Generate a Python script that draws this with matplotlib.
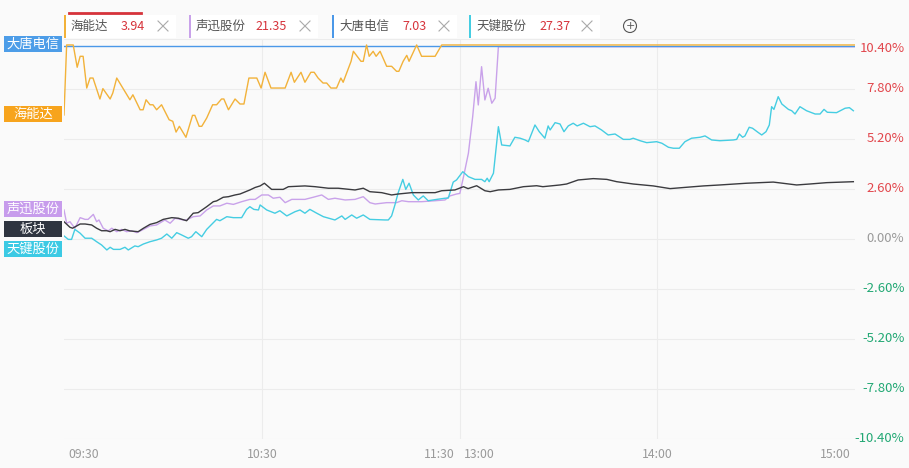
import matplotlib.pyplot as plt
import matplotlib.transforms as mtransforms
from matplotlib.patches import Rectangle, Circle
from matplotlib.lines import Line2D

plt.rcParams['font.family'] = ['Noto Sans CJK SC', 'DejaVu Sans']

# x = trading minutes since 09:30 (lunch break removed), y = change in %
tick_pos = [0, 60, 120, 120, 180, 240]
tick_text = ['09:30', '10:30', '11:30', '13:00', '14:00', '15:00']
tick_ha = ['left', 'center', 'right', 'left', 'center', 'center']
pct_ticks = [10.4, 7.8, 5.2, 2.6, 0.0, -2.6, -5.2, -7.8, -10.4]

names = ['海能达', '声迅股份', '大唐电信', '天键股份']
prices = ['3.94', '21.35', '7.03', '27.37']

# 海能达
hnd_t = [0, 0.8, 2.8, 4.0, 4.9, 5.8, 6.9, 7.9, 8.8, 10.9, 11.8, 14.0, 14.8, 16.0,
         20.0, 20.9, 23.1, 24.0, 24.9, 26.1, 27.0, 28.1, 29.6, 31.9, 33.0, 34.0,
         35.0, 37.0, 39.0, 39.7, 41.0, 41.8, 43.3, 45.1, 46.3, 47.8, 48.5, 49.9,
         51.9, 53.4, 54.6, 56.1, 58.5, 59.8, 61.0, 62.8, 67.1, 68.9, 69.9, 71.9,
         73.1, 74.9, 75.9, 77.1, 78.6, 79.7, 81.0, 82.7, 84.0, 84.7, 87.1, 87.8,
         90.1, 90.8, 91.8, 92.6, 93.8, 94.7, 95.9, 97.9, 99.4, 100.9, 101.6, 102.9,
         104.0, 104.7, 107.0, 108.5, 112.6, 114.6, 240]
hnd_v = [6.45, 10.09, 10.09, 8.93, 9.50, 9.50, 7.85, 8.37, 8.37, 7.28, 7.82, 7.28, 7.59, 8.37,
         7.24, 7.50, 6.72, 6.72, 7.24, 6.98, 6.98, 6.72, 6.98, 6.20, 6.12, 5.56,
         5.86, 5.29, 6.43, 6.43, 5.86, 5.86, 6.29, 6.98, 6.98, 7.28, 7.28, 6.72,
         7.28, 7.02, 7.02, 8.37, 8.37, 7.85, 8.67, 7.85, 7.85, 8.67, 8.15, 8.67,
         8.15, 8.67, 8.67, 8.37, 8.11, 8.11, 7.85, 7.85, 8.37, 8.15, 9.24, 9.76,
         9.24, 9.24, 10.09, 9.50, 9.76, 9.50, 9.76, 8.98, 8.98, 8.72, 8.72, 9.24,
         9.55, 9.24, 10.09, 9.50, 9.50, 10.09, 10.09]

# 声迅股份
sx_t = [0, 0.8, 1.8, 3.3, 4.9, 6.4, 7.3, 8.9, 9.9, 10.6, 11.9, 13.4, 14.5, 16.0,
        17.5, 19.0, 20.5, 22.1, 24.1, 26.1, 28.1, 30.6, 32.2, 33.7, 36.2, 37.2,
        39.2, 41.3, 43.3, 45.3, 47.3, 49.4, 51.4, 53.9, 56.4, 58.0, 60.0, 62.0,
        63.5, 65.5, 67.1, 69.1, 73.1, 75.6, 78.2, 80.2, 82.2, 85.3, 88.3, 90.8,
        92.8, 94.4, 97.9, 100.9, 102.5, 104.5, 108.5, 112.6, 115.6, 117.1, 119.1,
        120.1, 121.2, 122.7, 124.0, 125.0, 125.7, 126.7, 127.7, 128.7, 129.8,
        130.8, 131.8, 240]
sx_v = [1.51, 0.82, 0.90, 0.56, 1.11, 1.02, 1.02, 1.28, 0.90, 0.99, 0.56, 0.42, 0.56, 0.38,
        0.50, 0.38, 0.43, 0.33, 0.50, 0.68, 0.73, 0.99, 0.82, 1.08, 0.99, 0.99,
        1.16, 1.20, 1.51, 1.72, 1.72, 1.86, 1.80, 1.94, 2.06, 2.06, 2.29, 2.29,
        2.12, 2.17, 1.89, 2.06, 2.06, 2.17, 2.29, 2.06, 2.12, 2.03, 2.06, 2.20,
        1.89, 1.82, 1.89, 1.89, 1.99, 1.94, 1.94, 1.99, 2.03, 2.24, 2.34,
        2.37, 3.22, 4.46, 6.36, 8.18, 6.97, 8.96, 7.23, 7.84, 7.06,
        7.32, 10.0, 10.0]

# 大唐电信 (limit up all day)
dt_t = [0, 240]
dt_v = [10.04, 10.04]

# 天键股份
tj_t = [0, 1.3, 2.3, 3.3, 4.9, 6.4, 8.4, 9.9, 11.4, 13.0, 14.0, 15.0, 17.0, 18.5,
        19.5, 21.5, 22.5, 24.1, 26.1, 28.1, 29.6, 31.2, 32.7, 34.2, 35.7, 37.7,
        38.7, 40.0, 41.8, 43.3, 45.3, 46.3, 47.3, 49.4, 51.4, 53.9, 55.4, 56.4,
        57.6, 59.0, 59.5, 61.5, 64.0, 65.5, 67.6, 70.1, 71.6, 73.1, 74.6, 76.7,
        78.7, 82.2, 84.3, 85.3, 87.3, 88.8, 90.8, 92.8, 97.4, 98.4, 99.4, 100.4,
        101.4, 102.8, 103.7, 104.7, 106.0, 107.5, 109.0, 110.5, 113.1, 115.6,
        116.6, 118.1, 119.1, 121.0, 122.7, 124.7, 126.7, 127.7, 128.4, 129.0,
        130.3, 131.8, 132.8, 135.3, 136.8, 138.4, 139.9, 140.9, 142.9, 144.2,
        145.9, 146.9, 147.5, 149.0, 150.5, 151.7, 153.0, 154.5, 155.7, 157.6,
        159.6, 161.1, 163.1, 165.1, 167.2, 169.7, 171.7, 172.7, 174.8, 176.8,
        179.8, 181.4, 183.4, 184.9, 186.7, 188.4, 190.4, 193.0, 194.5, 196.5,
        199.0, 203.1, 204.1, 204.9, 205.9, 206.6, 207.9, 208.9, 210.7, 211.7,
        213.0, 214.0, 214.7, 215.4, 216.7, 217.8, 219.8, 220.8, 221.8, 223.3,
        225.3, 227.9, 229.4, 230.6, 231.6, 234.4, 237.0, 238.3, 239.5]
tj_v = [0.16, -0.02, -0.02, 0.50, 0.30, 0.04, 0.04, -0.14, -0.31, -0.57, -0.43, -0.54, -0.54, -0.43,
        -0.57, -0.36, -0.40, -0.26, -0.14, -0.05, 0.04, 0.26, 0.04, 0.33, 0.21, 0.04,
        0.12, 0.38, 0.12, 0.50, 0.85, 1.02, 0.95, 1.16, 1.11, 1.11, 1.54, 1.68,
        1.54, 1.51, 1.77, 1.51, 1.34, 1.47, 1.20, 1.42, 1.51, 1.34, 1.54, 1.34,
        1.16, 0.99, 1.20, 1.02, 1.25, 1.08, 1.25, 1.02, 0.99, 0.99, 1.20, 1.77,
        2.41, 3.10, 2.58, 2.90, 2.29, 2.03, 2.24, 1.99, 2.06, 2.12,
        2.13, 2.96, 3.07, 3.50, 3.24, 3.10, 3.10, 2.98, 3.16, 2.98,
        3.42, 5.84, 4.89, 4.84, 5.29, 5.24, 5.15, 5.06, 5.93, 5.58,
        5.24, 5.88, 5.67, 6.05, 5.98, 5.58, 5.88, 6.02, 5.88, 6.02,
        5.84, 5.88, 5.67, 5.41, 5.46, 5.18, 5.18, 5.24, 5.11, 5.01,
        5.06, 4.98, 4.77, 4.72, 4.72, 5.06, 5.24, 5.29, 5.36, 5.15,
        5.11, 5.15, 5.18, 5.46, 5.29, 5.36, 5.81, 5.76, 5.53, 5.41,
        5.58, 5.93, 6.88, 6.74, 7.40, 7.02, 6.74, 6.67, 6.50, 6.88,
        6.67, 6.50, 6.50, 6.74, 6.59, 6.57, 6.80, 6.83, 6.67]

# 板块
bk_t = [0, 1.8, 2.6, 4.9, 6.4, 8.4, 9.9, 11.4, 13.0, 14.0, 15.5, 17.0, 18.5, 20.0,
        22.5, 24.1, 26.1, 28.1, 30.1, 32.7, 34.7, 37.2, 39.2, 40.7, 43.3, 45.3,
        46.3, 48.3, 49.9, 51.9, 53.4, 56.4, 58.0, 59.5, 60.8, 63.0, 66.5, 68.1,
        73.1, 76.2, 80.2, 83.2, 88.3, 90.8, 92.8, 96.4, 99.4, 101.4, 105.5, 112.6,
        114.6, 118.6, 121.2, 122.6, 125.2, 127.7, 129.3, 131.8, 135.3, 139.4,
        143.4, 145.3, 150.5, 152.5, 156.0, 160.6, 164.7, 167.7, 172.7, 178.8,
        183.9, 188.9, 194.0, 199.0, 207.1, 215.2, 222.3, 226.3, 231.4, 239.5]
bk_v = [0.90, 0.61, 0.56, 0.78, 0.78, 0.73, 0.56, 0.43, 0.43, 0.38, 0.50, 0.43, 0.50, 0.42,
        0.38, 0.56, 0.76, 0.85, 1.02, 1.11, 1.08, 0.95, 1.34, 1.37, 1.68, 1.94,
        1.98, 2.17, 2.20, 2.29, 2.34, 2.55, 2.68, 2.76, 2.90, 2.58, 2.58, 2.72,
        2.76, 2.72, 2.64, 2.64, 2.55, 2.64, 2.46, 2.41, 2.29, 2.34, 2.41, 2.41,
        2.51, 2.55, 2.72, 2.62, 2.77, 2.51, 2.46, 2.55, 2.58, 2.72,
        2.77, 2.72, 2.81, 2.86, 3.07, 3.14, 3.10, 2.98, 2.86, 2.76,
        2.62, 2.69, 2.76, 2.81, 2.90, 2.96, 2.81, 2.86, 2.93, 2.98]

c_orange = '#f2b23a'
c_purple = '#c9a2ea'
c_blue = '#4b98e8'
c_cyan = '#45cde2'
c_black = '#3b3b3f'
bg = '#fafafa'

W, H = 909, 468
fig = plt.figure(figsize=(W / 100, H / 100), dpi=100, facecolor=bg)
# axes spans x 64..855 px, y 39..439 px (from top)
ax = fig.add_axes([64 / W, (H - 439) / H, (855 - 64) / W, 400 / H])
ax.set_facecolor(bg)
ax.set_xlim(0, 240)
ax.set_ylim(-10.4, 10.4)
for s in ax.spines.values():
    s.set_visible(False)
ax.set_xticks([])
ax.set_yticks([])

for v in pct_ticks:
    ax.axhline(v, color='#ececec', lw=0.8, zorder=0)
for t in [60, 120, 180]:
    ax.axvline(t, color='#ececec', lw=0.8, zorder=0)

ax.plot(sx_t, sx_v, color=c_purple, lw=1.0, zorder=2)
ax.plot(tj_t, tj_v, color=c_cyan, lw=1.0, zorder=3)
ax.plot(bk_t, bk_v, color=c_black, lw=1.0, zorder=4)
ax.plot(dt_t, dt_v, color=c_blue, lw=1.0, zorder=5)
ax.plot(hnd_t, hnd_v, color=c_orange, lw=1.0, zorder=6)

# y labels on the right
ytr = ax.get_yaxis_transform()
for v in pct_ticks:
    if v > 0:
        col = '#e2474d'
    elif v < 0:
        col = '#22a874'
    else:
        col = '#9a9a9a'
    tr = ytr
    if v == pct_ticks[0]:
        tr = mtransforms.offset_copy(ytr, fig=fig, x=0, y=-10, units='dots')
    ax.text(1.0625, v, '%.2f%%' % v, transform=tr, ha='right', va='center',
            color=col, fontsize=9.5)

# x labels
xtr = ax.get_xaxis_transform()
for p, lab, ha in zip(tick_pos, tick_text, tick_ha):
    dx = {'left': 4, 'right': -5, 'center': 0}[ha]
    if lab == '15:00':
        dx = -20
    tr = mtransforms.offset_copy(xtr, fig=fig, x=dx, y=0, units='dots')
    ax.text(p, -0.0375, lab, transform=tr, ha=ha, va='center',
            color='#9a9a9a', fontsize=8.8)

# everything below is placed in pixels from the top-left corner
def px(x, y):
    return x / 100, (H - y) / 100

inch = fig.dpi_scale_trans

# name tags on the left
tags = [('大唐电信', 44, '#4d9de8'), ('海能达', 114, '#f7a41d'),
        ('声迅股份', 209, '#c79cec'), ('板块', 229, '#2f3540'),
        ('天键股份', 249, '#3ccae4')]
for txt, yc, col in tags:
    x0, y0 = px(4, yc + 8)
    fig.patches.append(Rectangle((x0, y0), 0.58, 0.16, transform=inch,
                                 facecolor=col, edgecolor='none'))
    fig.text(*px(33, yc), txt, transform=inch, ha='center', va='center',
             color='white', fontsize=9.5)

# tabs on top
tab_x = [64, 189, 332, 469]
tab_w = [112, 129, 125, 131]
price_dx = [57, 66, 70, 70]
tab_col = [c_orange, c_purple, c_blue, c_cyan]
for i in range(4):
    x = tab_x[i]
    fig.patches.append(Rectangle(px(x, 38), tab_w[i] / 100, 0.23, transform=inch,
                                 facecolor='white', edgecolor='none'))
    fig.patches.append(Rectangle(px(x, 38), 0.02, 0.23, transform=inch,
                                 facecolor=tab_col[i], edgecolor='none'))
    fig.text(*px(x + 7, 26), names[i], transform=inch, ha='left', va='center',
             color='#555555', fontsize=9)
    fig.text(*px(x + price_dx[i], 26), prices[i], transform=inch, ha='left',
             va='center', color='#d6333b', fontsize=9)
    cx = x + tab_w[i] - 13
    for a, b in [((-5, -5), (5, 5)), ((-5, 5), (5, -5))]:
        p0 = px(cx + a[0], 26 + a[1])
        p1 = px(cx + b[0], 26 + b[1])
        fig.lines.append(Line2D([p0[0], p1[0]], [p0[1], p1[1]], transform=inch,
                                color='#aaaaaa', lw=0.8))

# red marker above first tab
p0, p1 = px(69, 12.5), px(141, 12.5)
fig.lines.append(Line2D([p0[0], p1[0]], [p0[1], p1[1]], transform=inch,
                        color='#d6333b', lw=2))

# add button
fig.patches.append(Circle(px(630, 26), 0.065, transform=inch, facecolor='none',
                          edgecolor='#555555', lw=0.8))
fig.text(*px(630, 26), '+', transform=inch, ha='center', va='center',
         color='#555555', fontsize=8, family='DejaVu Sans')

fig.savefig('out.png', dpi=100, facecolor=bg)
